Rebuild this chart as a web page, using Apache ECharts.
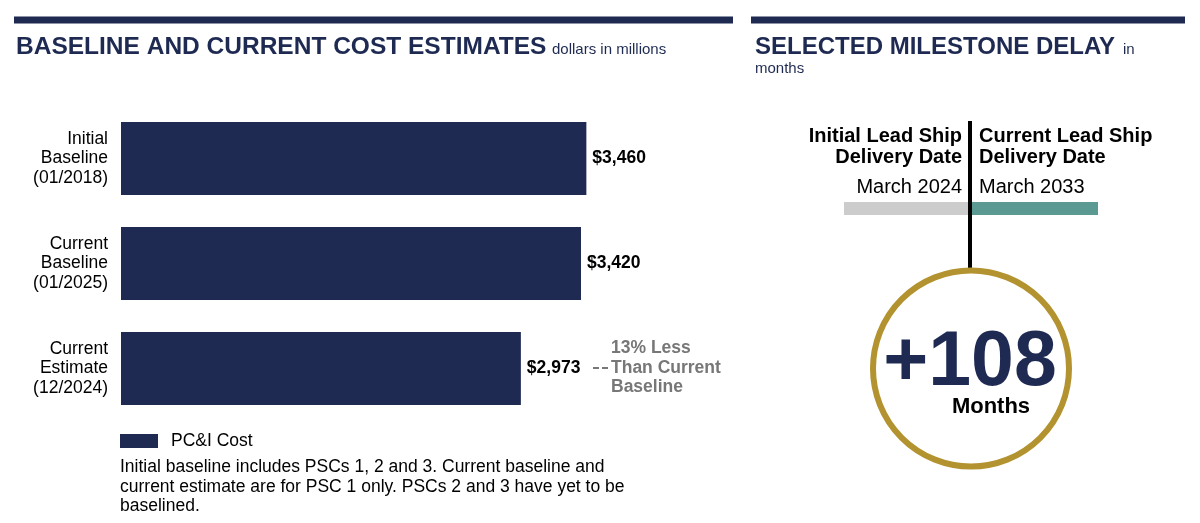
<!DOCTYPE html>
<html>
<head>
    <title>Baseline and Current Cost Estimates</title>
    <script src="https://cdnjs.cloudflare.com/ajax/libs/echarts/6.0.0/echarts.min.js"></script>
    <style>
        html, body {
            margin: 0;
            padding: 0;
            background: #fff;
        }
        #chart {
            width: 1200px;
            height: 523px;
        }
    </style>
</head>
<body>
    <div id="chart"></div>

    <script>
        // cost chart data (dollars in millions)
        const categories = ['Initial\nBaseline\n(01/2018)', 'Current\nBaseline\n(01/2025)', 'Current\nEstimate\n(12/2024)'];
        const costValues = [3460, 3420, 2973];
        const seriesName = 'PC&I Cost';
        const costNote = '13% Less\nThan Current\nBaseline';
        const footnote = 'Initial baseline includes PSCs 1, 2 and 3. Current baseline and\ncurrent estimate are for PSC 1 only. PSCs 2 and 3 have yet to be\nbaselined.';

        // milestone data
        const milestoneLabels = ['Initial Lead Ship\nDelivery Date', 'Current Lead Ship\nDelivery Date'];
        const milestoneDates = ['March 2024', 'March 2033'];
        const delayMonths = [108];

        const NAVY = '#1e2a52';
        const FONT = '"Liberation Sans", Arial, sans-serif';

        const chart = echarts.init(document.getElementById('chart'));

        const option = {
            animation: false,
            textStyle: { fontFamily: FONT },
            grid: {
                left: 121,
                top: 106,
                width: 538,
                height: 315,
                containLabel: false
            },
            xAxis: {
                type: 'value',
                min: 0,
                max: 4000,
                show: false
            },
            yAxis: {
                type: 'category',
                data: categories,
                inverse: true,
                axisLine: { show: false },
                axisTick: { show: false },
                axisLabel: {
                    margin: 13,
                    color: '#000',
                    fontSize: 17.5,
                    lineHeight: 19.5,
                    align: 'right',
                    fontFamily: FONT
                }
            },
            legend: {
                data: [seriesName],
                left: 120,
                top: 426,
                padding: 0,
                icon: 'rect',
                itemWidth: 38,
                itemHeight: 14,
                selectedMode: false,
                textStyle: {
                    fontSize: 17.5,
                    color: '#000',
                    fontFamily: FONT,
                    padding: [0, 0, 0, 8]
                }
            },
            series: [{
                name: seriesName,
                type: 'bar',
                data: costValues,
                barWidth: 73,
                itemStyle: { color: NAVY },
                label: {
                    show: true,
                    position: 'right',
                    distance: 6,
                    color: '#000',
                    fontWeight: 'bold',
                    fontSize: 17.5,
                    fontFamily: FONT,
                    formatter: p => '$' + p.value.toLocaleString('en-US')
                }
            }],
            graphic: [
                // header rules
                { type: 'rect', shape: { x: 14, y: 16.5, width: 719, height: 7 }, style: { fill: NAVY } },
                { type: 'rect', shape: { x: 751, y: 16.5, width: 434, height: 7 }, style: { fill: NAVY } },

                // titles
                { type: 'text', x: 16, y: 47, style: { text: 'BASELINE AND CURRENT COST ESTIMATES', font: 'bold 24.5px ' + FONT, fill: NAVY, verticalAlign: 'middle' } },
                { type: 'text', x: 552, y: 50, style: { text: 'dollars in millions', font: '15px ' + FONT, fill: NAVY, verticalAlign: 'middle' } },
                { type: 'text', x: 755, y: 47, style: { text: 'SELECTED MILESTONE DELAY', font: 'bold 24px ' + FONT, fill: NAVY, verticalAlign: 'middle' } },
                { type: 'text', x: 1123, y: 50, style: { text: 'in', font: '15px ' + FONT, fill: NAVY, verticalAlign: 'middle' } },
                { type: 'text', x: 755, y: 69, style: { text: 'months', font: '15px ' + FONT, fill: NAVY, verticalAlign: 'middle' } },

                // note next to current estimate
                { type: 'line', shape: { x1: 593, y1: 368, x2: 608, y2: 368 }, style: { stroke: '#777', lineWidth: 2, lineDash: [6, 3] } },
                { type: 'text', x: 611, y: 368, style: { text: costNote, font: 'bold 17.5px ' + FONT, fill: '#777', lineHeight: 19.5, verticalAlign: 'middle' } },

                // footnote
                { type: 'text', x: 120, y: 487, style: { text: footnote, font: '17.5px ' + FONT, fill: '#000', lineHeight: 19.6, verticalAlign: 'middle' } },

                // milestone timeline
                { type: 'rect', shape: { x: 844, y: 202, width: 126, height: 13 }, style: { fill: '#cccccc' } },
                { type: 'rect', shape: { x: 970, y: 202, width: 128, height: 13 }, style: { fill: '#5b9a93' } },
                { type: 'line', shape: { x1: 970, y1: 121, x2: 970, y2: 268 }, style: { stroke: '#000', lineWidth: 4 } },
                { type: 'text', x: 962, y: 146.5, style: { text: milestoneLabels[0], font: 'bold 20px ' + FONT, fill: '#000', lineHeight: 21, align: 'right', verticalAlign: 'middle' } },
                { type: 'text', x: 979, y: 146.5, style: { text: milestoneLabels[1], font: 'bold 20px ' + FONT, fill: '#000', lineHeight: 21, align: 'left', verticalAlign: 'middle' } },
                { type: 'text', x: 962, y: 187, style: { text: milestoneDates[0], font: '20px ' + FONT, fill: '#000', align: 'right', verticalAlign: 'middle' } },
                { type: 'text', x: 979, y: 187, style: { text: milestoneDates[1], font: '20px ' + FONT, fill: '#000', align: 'left', verticalAlign: 'middle' } },

                // delay circle
                { type: 'circle', shape: { cx: 971, cy: 368.5, r: 98 }, style: { fill: '#fff', stroke: '#b39330', lineWidth: 6 } },
                { type: 'text', x: 970, y: 364, style: { text: '+' + delayMonths[0], font: 'bold 77px ' + FONT, fill: NAVY, align: 'center', verticalAlign: 'middle' } },
                { type: 'text', x: 991, y: 407, style: { text: 'Months', font: 'bold 22px ' + FONT, fill: '#000', align: 'center', verticalAlign: 'middle' } }
            ]
        };

        chart.setOption(option);
    </script>
</body>
</html>
